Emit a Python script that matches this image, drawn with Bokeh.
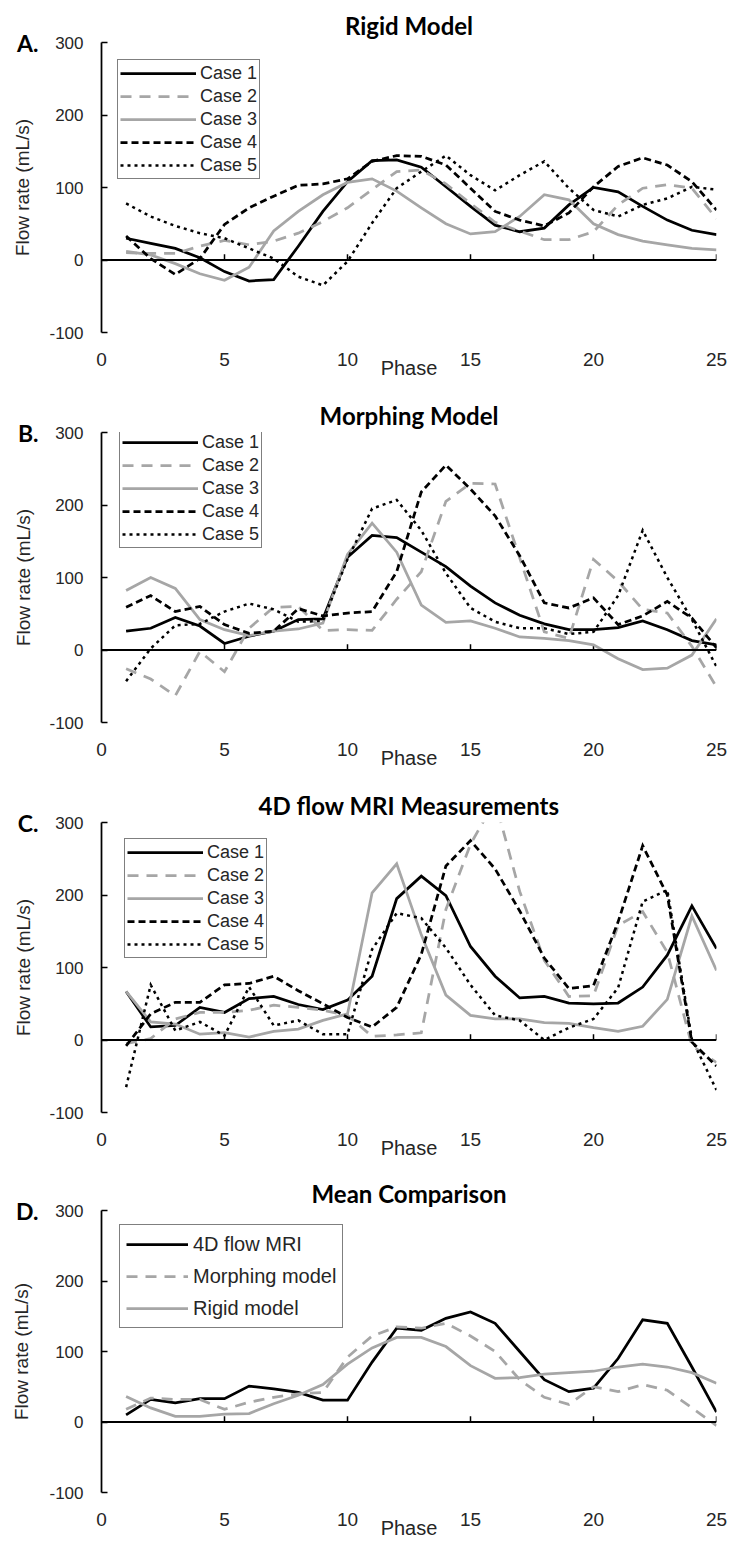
from bokeh.plotting import figure
from bokeh.models import Range1d, FixedTicker, Span, Legend, LegendItem, ColumnDataSource, LinearAxis
from bokeh.layouts import column
from bokeh.embed import file_html
from bokeh.resources import INLINE

# ---------------- data ----------------
phase = list(range(1, 26))
x_ticks = [0, 5, 10, 15, 20, 25]
y_ticks = [-100, 0, 100, 200, 300]

# A. Rigid model
rigid_case1 = [30, 23, 16, 3, -16, -29, -27, 19, 67, 108, 137, 138, 128, 101, 74, 48, 39, 44, 76, 100, 94, 74, 55, 41, 35]
rigid_case2 = [10, 9, 9, 19, 27, 21, 26, 37, 53, 72, 97, 122, 124, 105, 78, 52, 40, 28, 28, 39, 76, 99, 104, 99, 57]
rigid_case3 = [12, 7, -5, -19, -28, -10, 40, 67, 90, 107, 112, 95, 72, 50, 36, 39, 60, 90, 83, 50, 35, 26, 21, 16, 14]
rigid_case4 = [33, 2, -20, 2, 49, 72, 88, 103, 105, 112, 136, 144, 143, 131, 99, 67, 55, 47, 65, 101, 129, 141, 131, 108, 69]
rigid_case5 = [78, 60, 47, 37, 30, 16, 2, -23, -35, -2, 51, 99, 122, 144, 117, 96, 117, 136, 99, 69, 60, 76, 85, 101, 97]

# B. Morphing model
morph_case1 = [26, 30, 45, 33, 9, 19, 26, 42, 43, 128, 158, 155, 135, 115, 88, 65, 48, 36, 28, 28, 31, 40, 28, 13, 7]
morph_case2 = [-26, -40, -63, -2, -30, 30, 59, 60, 27, 28, 27, 70, 108, 205, 230, 229, 127, 25, 16, 125, 95, 56, 51, 5, -51]
morph_case3 = [82, 100, 85, 42, 28, 20, 26, 29, 37, 132, 175, 135, 62, 38, 40, 30, 18, 16, 13, 7, -12, -27, -25, -7, 43]
morph_case4 = [59, 75, 53, 60, 35, 23, 26, 57, 47, 51, 53, 108, 218, 255, 222, 185, 130, 65, 58, 72, 35, 47, 67, 44, 3]
morph_case5 = [-43, 2, 34, 36, 53, 64, 56, 39, 40, 125, 195, 207, 165, 106, 58, 39, 30, 30, 22, 25, 75, 165, 100, 42, -23]

# C. 4D flow MRI measurements
mri_case1 = [67, 18, 20, 45, 38, 57, 60, 49, 42, 55, 88, 195, 226, 199, 129, 88, 58, 60, 51, 50, 51, 73, 117, 185, 126]
mri_case2 = [-5, 2, 29, 38, 38, 41, 48, 45, 41, 34, 5, 7, 10, 180, 270, 330, 205, 110, 60, 61, 158, 177, 121, -8, -31]
mri_case3 = [67, 25, 22, 8, 10, 4, 12, 15, 27, 36, 203, 243, 145, 62, 34, 29, 29, 24, 23, 17, 12, 19, 56, 171, 96]
mri_case4 = [-8, 36, 52, 52, 76, 78, 88, 68, 50, 31, 18, 45, 118, 240, 275, 236, 178, 113, 71, 75, 163, 268, 200, -3, -36]
mri_case5 = [-65, 76, 13, 25, 6, 73, 20, 27, 8, 8, 125, 175, 168, 127, 76, 34, 27, 0, 17, 29, 72, 191, 207, 1, -69]

# D. Mean comparison
mean_mri = [10, 32, 27, 33, 33, 51, 47, 42, 31, 31, 85, 133, 130, 147, 156, 140, 100, 60, 43, 48, 90, 145, 140, 78, 14]
mean_morph = [18, 34, 32, 32, 18, 28, 35, 40, 42, 92, 122, 135, 133, 140, 122, 100, 60, 35, 25, 50, 43, 53, 45, 20, -5]
mean_rigid = [36, 20, 8, 8, 11, 12, 26, 38, 53, 82, 105, 120, 120, 107, 80, 62, 63, 68, 70, 72, 78, 82, 78, 70, 55]

case_names = ["Case 1", "Case 2", "Case 3", "Case 4", "Case 5"]
mean_names = ["4D flow MRI", "Morphing model", "Rigid model"]

# ---------------- styles ----------------
BLACK = "#000000"
GRAY = "#A6A6A6"
TXT = "#262626"
case_styles = [
    dict(line_color=BLACK, line_width=2.75, line_dash="solid"),
    dict(line_color=GRAY, line_width=2.75, line_dash="11 8"),
    dict(line_color=GRAY, line_width=2.75, line_dash="solid"),
    dict(line_color=BLACK, line_width=2.75, line_dash="7 4"),
    dict(line_color=BLACK, line_width=2.5, line_dash="3 4"),
]
mean_styles = [case_styles[0], case_styles[1], case_styles[2]]


def make_panel(letter, title, names, series, styles, height, top, bottom, legend_loc, legend_opts):
    p = figure(width=729, height=height, x_range=Range1d(0, 25), y_range=Range1d(-100, 300),
               output_backend="svg", toolbar_location=None,
               min_border_left=101, min_border_right=13, min_border_top=top,
               min_border_bottom=bottom)
    p.outline_line_color = None
    p.xgrid.visible = False
    p.ygrid.visible = False
    p.background_fill_color = "white"

    p.title.text = title
    p.title.align = "center"
    p.title.text_font = "Lato"
    p.title.text_font_style = "bold"
    p.title.text_font_size = "24px"
    p.title.text_color = BLACK
    p.title.standoff = 6

    xa = p.xaxis[0]
    xa.ticker = FixedTicker(ticks=x_ticks)
    xa.axis_line_color = None
    xa.major_tick_line_color = None
    xa.minor_tick_line_color = None
    xa.major_label_standoff = 14
    xa.major_label_text_font = "Liberation Sans"
    xa.major_label_text_font_size = "19px"
    xa.major_label_text_color = TXT
    xa.axis_label = "Phase"
    xa.axis_label_standoff = -12
    xa.axis_label_text_font = "Liberation Sans"
    xa.axis_label_text_font_size = "20px"
    xa.axis_label_text_font_style = "normal"
    xa.axis_label_text_color = TXT

    ya = p.yaxis[0]
    ya.ticker = FixedTicker(ticks=y_ticks)
    ya.major_label_overrides = {t: str(t) for t in y_ticks}
    ya.axis_line_color = BLACK
    ya.axis_line_width = 1.75
    ya.major_tick_line_color = BLACK
    ya.major_tick_line_width = 1.5
    ya.major_tick_in = 6
    ya.major_tick_out = 0
    ya.minor_tick_line_color = None
    ya.major_label_standoff = 18
    ya.major_label_text_font = "Liberation Sans"
    ya.major_label_text_font_size = "17px"
    ya.major_label_text_color = TXT

    # outer left axis: panel letter at the top tick, and the y-axis title
    outer = LinearAxis(ticker=FixedTicker(ticks=[y_ticks[-1]]),
                       major_label_overrides={y_ticks[-1]: letter},
                       axis_line_color=None, major_tick_line_color=None,
                       minor_tick_line_color=None, major_label_standoff=2,
                       major_label_text_font="Lato", major_label_text_font_style="bold",
                       major_label_text_font_size="23px", major_label_text_color=BLACK,
                       axis_label="Flow rate (mL/s)", axis_label_standoff=-19,
                       axis_label_text_font="Liberation Sans", axis_label_text_font_size="19px",
                       axis_label_text_font_style="normal", axis_label_text_color=TXT)
    p.add_layout(outer, "left")

    # horizontal axis crossing at zero, with its tick marks
    p.add_layout(Span(location=0, dimension="width", line_color=BLACK, line_width=2))
    p.segment(x0=x_ticks[1:], y0=[0] * (len(x_ticks) - 1), x1=x_ticks[1:],
              y1=[8] * (len(x_ticks) - 1), line_color=BLACK, line_width=1.5)

    src = ColumnDataSource(dict(phase=phase, **{f"s{i}": s for i, s in enumerate(series)}))
    items = []
    for i, (name, st) in enumerate(zip(names, styles)):
        r = p.line(x="phase", y=f"s{i}", source=src, line_join="miter", **st)
        items.append(LegendItem(label=name, renderers=[r]))

    leg = Legend(items=items, location=legend_loc, border_line_color=BLACK,
                 border_line_width=1.5, background_fill_color="white", background_fill_alpha=1,
                 label_text_color=TXT, **legend_opts)
    p.add_layout(leg)
    return p


case_legend = dict(label_text_font="Liberation Sans", label_text_font_size="18px",
                   glyph_width=76, glyph_height=22, label_height=22, spacing=1,
                   padding=2, label_standoff=4)
mean_legend = dict(label_text_font="Liberation Sans", label_text_font_size="20px",
                   glyph_width=62, glyph_height=26, label_height=26, spacing=6,
                   padding=6, label_standoff=5)

pa = make_panel("A.", "Rigid Model", case_names,
                [rigid_case1, rigid_case2, rigid_case3, rigid_case4, rigid_case5],
                case_styles, 390, 42, 58, (16, 153), case_legend)
pb = make_panel("B.", "Morphing Model", case_names,
                [morph_case1, morph_case2, morph_case3, morph_case4, morph_case5],
                case_styles, 390, 42, 58, (18, 174), case_legend)
pc = make_panel("C.", "4D flow MRI Measurements", case_names,
                [mri_case1, mri_case2, mri_case3, mri_case4, mri_case5],
                case_styles, 390, 42, 58, (23, 154), case_legend)
pd = make_panel("D.", "Mean Comparison", mean_names,
                [mean_mri, mean_morph, mean_rigid],
                mean_styles, 371, 40, 47, (18, 164), mean_legend)

layout = column(pa, pb, pc, pd, spacing=0)
open("out.html", "w").write(file_html(layout, INLINE))
